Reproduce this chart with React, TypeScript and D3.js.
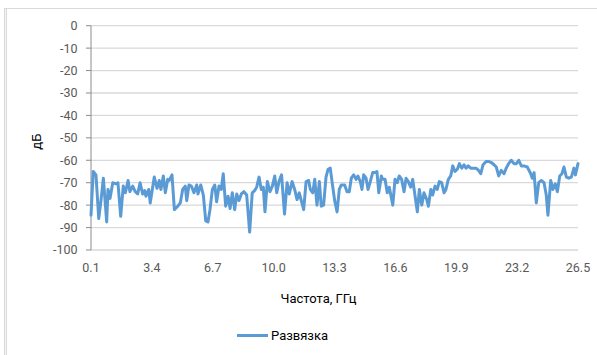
import React from "react";
import * as d3 from "d3";

// Measured isolation, frequency in GHz and level in dB
const freqGHz: number[] = [
  0.1, 0.22, 0.37, 0.52, 0.64, 0.77, 0.95, 1.02, 1.13, 1.28, 1.46, 1.56, 1.71, 1.85, 1.96, 2.11,
  2.21, 2.36, 2.5, 2.63, 2.76, 2.9, 3.01, 3.08, 3.23, 3.31, 3.53, 3.68, 3.8, 3.89, 4.02, 4.13,
  4.26, 4.34, 4.49, 4.62, 4.8, 4.94, 5.07, 5.21, 5.29, 5.41, 5.54, 5.68, 5.83, 5.9, 6.05, 6.19,
  6.32, 6.44, 6.55, 6.68, 6.81, 6.91, 7.04, 7.16, 7.27, 7.4, 7.53, 7.64, 7.76, 7.89, 8.0, 8.12,
  8.25, 8.39, 8.54, 8.7, 8.84, 8.97, 9.08, 9.21, 9.33, 9.44, 9.53, 9.66, 9.8, 9.93, 10.06, 10.17,
  10.29, 10.43, 10.59, 10.73, 10.85, 11.0, 11.14, 11.27, 11.39, 11.5, 11.63, 11.76, 11.9, 11.99,
  12.12, 12.23, 12.35, 12.48, 12.58, 12.71, 12.84, 12.95, 13.07, 13.2, 13.31, 13.44, 13.56, 13.67,
  13.85, 13.98, 14.1, 14.21, 14.34, 14.47, 14.57, 14.7, 14.79, 14.88, 15.01, 15.12, 15.24, 15.37,
  15.51, 15.6, 15.7, 15.84, 15.91, 16.04, 16.16, 16.27, 16.46, 16.58, 16.7, 16.81, 16.94, 17.07,
  17.18, 17.3, 17.43, 17.54, 17.66, 17.79, 17.9, 18.03, 18.15, 18.3, 18.39, 18.52, 18.62, 18.75,
  18.87, 18.98, 19.11, 19.24, 19.34, 19.47, 19.6, 19.71, 19.83, 19.96, 20.07, 20.2, 20.32, 20.43,
  20.55, 20.68, 20.82, 20.97, 21.11, 21.23, 21.35, 21.53, 21.66, 21.8, 21.95, 22.07, 22.2, 22.34,
  22.49, 22.61, 22.74, 22.88, 23.03, 23.16, 23.29, 23.43, 23.57, 23.75, 23.94, 24.02, 24.12, 24.24,
  24.37, 24.51, 24.66, 24.78, 24.87, 25.02, 25.14, 25.27, 25.38, 25.51, 25.63, 25.74, 25.87, 26.0,
  26.14, 26.28, 26.36, 26.5,
];

const isolationDb: number[] = [
  -84.5, -65, -66.5, -86, -78, -68, -87.5, -73, -77, -70, -70.5, -70, -85, -71.5, -74.5, -69,
  -74, -71.5, -74, -75, -70, -75, -73.5, -76, -73, -79, -67.5, -72.5, -69, -73, -67, -74.5,
  -68.5, -69, -66.5, -82, -80.5, -79, -73, -71.5, -78, -71, -71.5, -74.5, -71, -75, -71, -75.5,
  -87, -87.5, -82, -73, -71, -78.5, -71.5, -73, -66, -80.5, -76, -81.5, -74.5, -82, -75, -78,
  -75, -74, -75.5, -92, -74.5, -73.5, -72, -67.5, -73, -72, -83, -69.5, -74, -71.5, -67, -74.5,
  -69.5, -66.5, -84, -70, -75, -69.5, -73, -77.5, -74.5, -78, -82, -69.5, -69, -73,
  -74.5, -68.5, -80, -69.5, -80.5, -80, -67.5, -64, -63.5, -71.5, -78, -83, -73, -71,
  -71, -74, -74, -68, -66.5, -68.5, -67, -69.5, -73, -66.5, -68, -73, -69.5, -65.5,
  -65.5, -65, -74.5, -67, -68.5, -68.5, -74.5, -72, -80, -68.5, -70, -67, -68.5, -74,
  -68, -69.5, -72, -68.5, -75.5, -83, -73, -80, -74.5, -77.5, -80.5, -73, -75.5, -71.5,
  -73, -69.5, -70, -74.5, -73, -68.5, -67, -62.5, -65, -64, -61.5, -63.5, -62, -63.5,
  -62.5, -63.5, -63.5, -63.5, -64.5, -66, -62, -60.5, -60.5, -61, -62, -63, -67, -64.5,
  -66, -63.5, -61.5, -60, -61.5, -61.5, -60, -62.5, -62.5, -63, -66, -68, -65.5, -79,
  -70, -69, -70, -75.5, -84.5, -69, -73, -70.5, -74, -67, -66, -63, -67.5, -68,
  -67.5, -63.5, -66.5, -61.5,
];

const xTicks: number[] = [0.1, 3.4, 6.7, 10.0, 13.3, 16.6, 19.9, 23.2, 26.5];
const yTicks: number[] = [0, -10, -20, -30, -40, -50, -60, -70, -80, -90, -100];

const seriesName = "Развязка";
const xTitle = "Частота, ГГц";
const yTitle = "дБ";

const W = 597;
const H = 355;
const plot = { left: 91, right: 578, top: 25.7, bottom: 250 };

const LINE_COLOR = "#5b9bd5";
const GRID_COLOR = "#d9d9d9";
const TICK_TEXT = "#595959";
const FONT = "Roboto, 'Noto Sans', sans-serif";

export default function App() {
  const x = d3.scaleLinear().domain([0.1, 26.5]).range([plot.left, plot.right]);
  const y = d3.scaleLinear().domain([-100, 0]).range([plot.bottom, plot.top]);

  const points: [number, number][] = freqGHz.map((f, i) => [f, isolationDb[i]]);
  const path = d3
    .line<[number, number]>()
    .x((d) => x(d[0]))
    .y((d) => y(d[1]))(points);

  return (
    <svg
      width={W}
      height={H}
      style={{ position: "absolute", left: 0, top: 0, background: "#fff" }}
      fontFamily={FONT}
    >
      {/* chart frame */}
      <rect x={4} y={8} width={3} height={H - 8} fill="#f4f4f4" />
      <line x1={4.5} x2={4.5} y1={8} y2={H} stroke={GRID_COLOR} />
      <line x1={6.5} x2={6.5} y1={8} y2={H} stroke={GRID_COLOR} />
      <line x1={4} x2={W} y1={8.5} y2={8.5} stroke={GRID_COLOR} />

      {/* horizontal gridlines */}
      {yTicks.map((t) => (
        <line
          key={`g${t}`}
          x1={plot.left}
          x2={plot.right}
          y1={y(t)}
          y2={y(t)}
          stroke={GRID_COLOR}
          strokeWidth={1.3}
        />
      ))}

      {/* y axis */}
      <line x1={plot.left} x2={plot.left} y1={plot.top} y2={plot.bottom} stroke="#8c8c8c" />
      {yTicks.map((t) => (
        <g key={`y${t}`}>
          <line x1={plot.left - 5} x2={plot.left} y1={y(t)} y2={y(t)} stroke="#8c8c8c" />
          <text
            x={77.5}
            y={y(t)}
            dy="0.35em"
            textAnchor="end"
            fontSize={12.5}
            fill={TICK_TEXT}
          >
            {String(t)}
          </text>
        </g>
      ))}

      {/* x tick labels */}
      {xTicks.map((t) => (
        <text
          key={`x${t}`}
          x={x(t)}
          y={268}
          dy="0.35em"
          textAnchor="middle"
          fontSize={12.5}
          fill={TICK_TEXT}
        >
          {t.toFixed(1)}
        </text>
      ))}

      {/* axis titles */}
      <text
        transform="translate(36.5,141.7) rotate(-90)"
        textAnchor="middle"
        dy="0.35em"
        fontSize={13}
        fill="#000"
      >
        {yTitle}
      </text>
      <text x={318.5} y={298} dy="0.35em" textAnchor="middle" fontSize={13} fill="#000">
        {xTitle}
      </text>

      {/* data line */}
      <path
        d={path ?? ""}
        fill="none"
        stroke={LINE_COLOR}
        strokeWidth={3}
        strokeLinejoin="round"
        strokeLinecap="round"
      />

      {/* legend */}
      <line x1={237} x2={268} y1={335.5} y2={335.5} stroke={LINE_COLOR} strokeWidth={3} />
      <text x={271} y={335.5} dy="0.35em" fontSize={13} fill="#000">
        {seriesName}
      </text>
    </svg>
  );
}
